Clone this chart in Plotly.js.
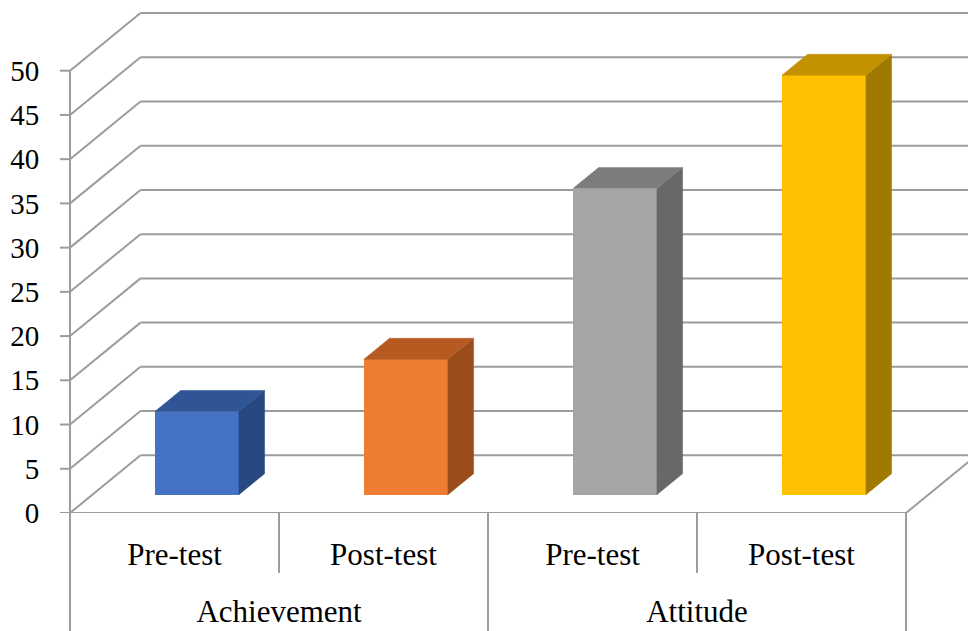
<!DOCTYPE html>
<html><head><meta charset="utf-8">
<script src="https://cdn.plot.ly/plotly-3.0.1.min.js"></script>
<style>html,body{margin:0;padding:0;background:#fff}#chart{width:968px;height:631px}</style>
</head><body><div id="chart"></div>
<script>
// ---- data ----
const groupNames = ["Achievement", "Attitude"];
const categories = ["Pre-test", "Post-test", "Pre-test", "Post-test"];
const values = [9.4, 15.3, 34.6, 47.4];
const frontColors = ["#4472C4", "#ED7D31", "#A5A5A5", "#FFC000"];
const topColors = ["#2F5597", "#B65A22", "#7C7C7C", "#C29200"];
const sideColors = ["#284882", "#9A4D1B", "#686868", "#A07A00"];
const yTicks = [0, 5, 10, 15, 20, 25, 30, 35, 40, 45, 50];

// ---- geometry / style ----
const W = 968, H = 631, ML = 60, MB = 118;
const PX_X = 209, PX_Y = 8.846;
const X0 = -10 / PX_X, X1 = X0 + (W - ML) / PX_X;
const Y1 = (H - MB) / PX_Y;
const DX = 70.5 / PX_X, DY = 57.7 / PX_Y;   // depth offset of back wall
const F0 = 0.318, F1 = 0.682, HW = 0.201;    // bar depth range & half width
const GRID = "#9C9C9C", GW = 2;
const FONT = "Liberation Serif, Times New Roman, serif";
const nCat = categories.length;

const traces = [];
// front faces (bars)
traces.push({
  type: "bar",
  x: values.map((v, i) => i + 0.5 + F0 * DX),
  y: values,
  base: values.map(() => F0 * DY),
  width: values.map(() => 2 * HW),
  marker: {color: frontColors, line: {width: 0}},
  hoverinfo: "skip", showlegend: false
});
values.forEach((v, i) => {
  const xl = i + 0.5 - HW, xr = i + 0.5 + HW;
  // side face
  traces.push({
    type: "scatter", mode: "lines", fill: "toself", fillcolor: sideColors[i],
    line: {color: sideColors[i], width: 0.5},
    x: [xr + F0 * DX, xr + F1 * DX, xr + F1 * DX, xr + F0 * DX, xr + F0 * DX],
    y: [F0 * DY, F1 * DY, v + F1 * DY, v + F0 * DY, F0 * DY],
    hoverinfo: "skip", showlegend: false
  });
  // top face
  traces.push({
    type: "scatter", mode: "lines", fill: "toself", fillcolor: topColors[i],
    line: {color: topColors[i], width: 0.5},
    x: [xl + F0 * DX, xr + F0 * DX, xr + F1 * DX, xl + F1 * DX, xl + F0 * DX],
    y: [v + F0 * DY, v + F0 * DY, v + F1 * DY, v + F1 * DY, v + F0 * DY],
    hoverinfo: "skip", showlegend: false
  });
});

const shapes = [];
const ln = (x0, y0, x1, y1) => ({
  type: "line", xref: "x", yref: "y", x0, y0, x1, y1, layer: "below",
  line: {color: GRID, width: GW}
});
yTicks.forEach(t => {
  shapes.push(ln(X0, t, 0, t));                 // tick mark on value axis
  shapes.push(ln(0, t, DX, t + DY));             // side wall line
  shapes.push(ln(DX, t + DY, X1 + 1, t + DY));   // back wall line
});
shapes.push(ln(0, 0, 0, yTicks[yTicks.length - 1]));          // front value axis
shapes.push(ln(0, 0, nCat, 0));                                 // floor front edge
shapes.push(ln(nCat, 0, nCat + 2 * DX, 2 * DY));                 // floor right edge
// category separators under the axis
const plotH = H - MB;
for (let k = 0; k <= nCat; k++) {
  const isGroupEdge = k % 2 === 0;
  shapes.push({
    type: "line", xref: "x", yref: "paper", x0: k, x1: k, y0: 0,
    y1: isGroupEdge ? -(MB + 5) / plotH : -60 / plotH,
    layer: "below", line: {color: GRID, width: GW}
  });
}

const layout = {
  width: W, height: H,
  font: {family: FONT, color: "#000"},
  margin: {l: ML, r: 0, t: 0, b: MB, pad: 0},
  paper_bgcolor: "#fff", plot_bgcolor: "#fff",
  showlegend: false, bargap: 0,
  xaxis: {
    type: "linear", range: [X0, X1], fixedrange: true,
    showgrid: false, zeroline: false, showline: false, ticks: "",
    tickvals: categories.map((c, i) => i + 0.5), ticktext: categories,
    tickfont: {family: FONT, size: 31, color: "#000"},
    ticklabelstandoff: 20, automargin: false
  },
  xaxis2: {
    type: "linear", range: [X0, X1], overlaying: "x", anchor: "y", side: "bottom",
    fixedrange: true, showgrid: false, zeroline: false, showline: false, ticks: "",
    tickvals: groupNames.map((g, i) => 2 * i + 1), ticktext: groupNames,
    tickfont: {family: FONT, size: 31, color: "#000"},
    ticklabelstandoff: 77, automargin: false
  },
  yaxis: {
    type: "linear", range: [0, Y1], fixedrange: true,
    showgrid: false, zeroline: false, showline: false,
    tickmode: "array", tickvals: yTicks, ticktext: yTicks.map(String),
    ticks: "outside", ticklen: 14, tickwidth: 1, tickcolor: "rgba(0,0,0,0)",
    tickfont: {family: FONT, size: 29, color: "#000"},
    automargin: false
  },
  shapes
};
// invisible helper trace so the second (group) axis is drawn
traces.push({type: "scatter", x: [X0], y: [-100], xaxis: "x2", mode: "markers",
  marker: {opacity: 0}, hoverinfo: "skip", showlegend: false});

Plotly.newPlot("chart", traces, layout, {displayModeBar: false});
</script></body></html>
